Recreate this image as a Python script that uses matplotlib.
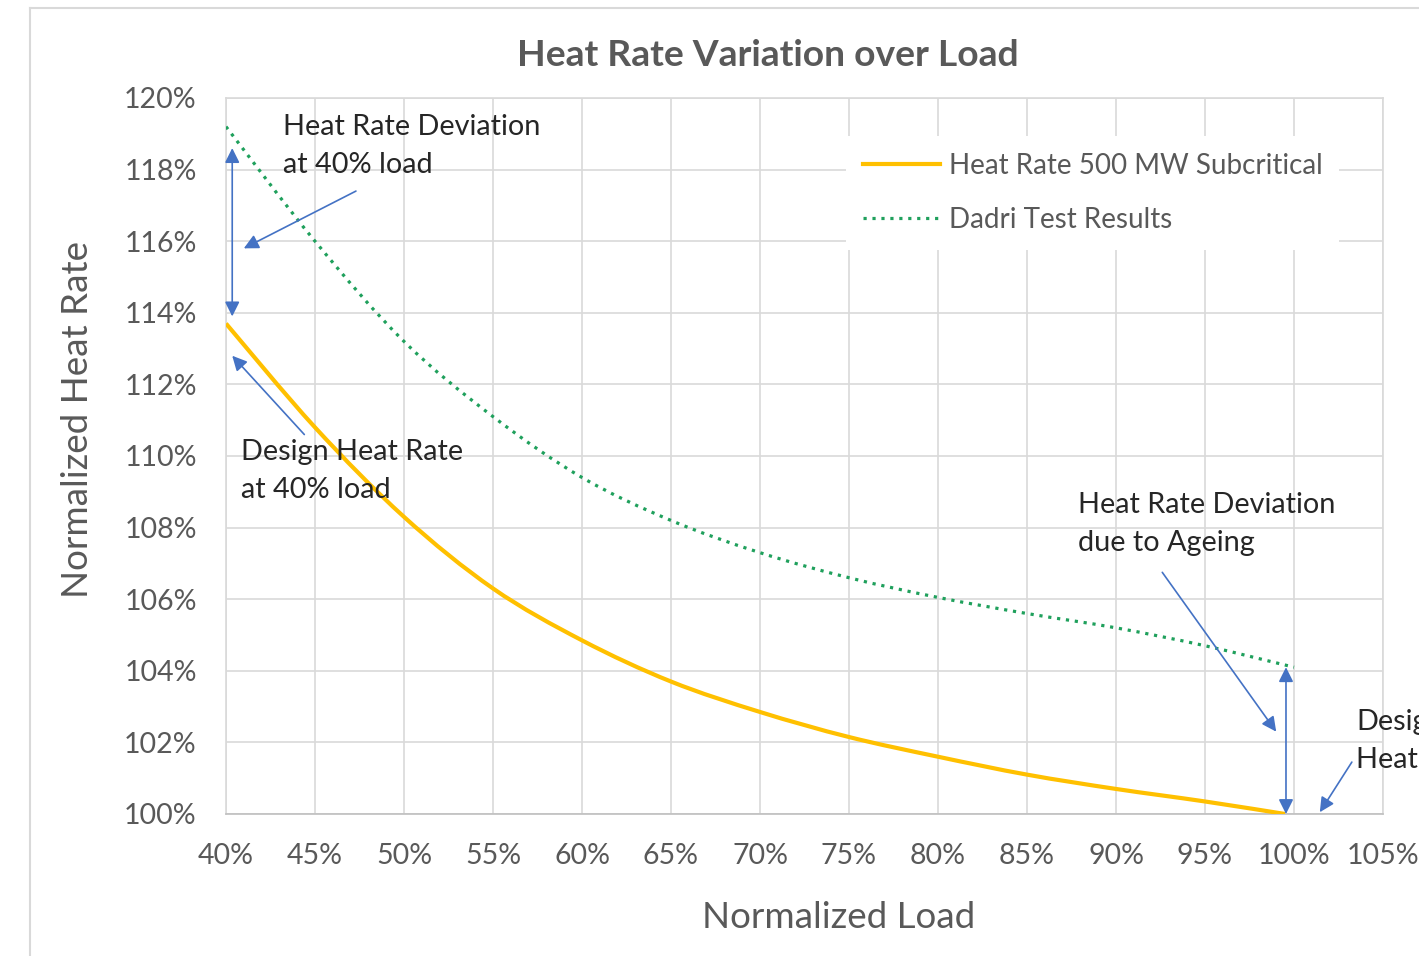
import matplotlib
matplotlib.use("Agg")
import matplotlib.pyplot as plt
from matplotlib.lines import Line2D
from matplotlib.path import Path
from matplotlib.patches import PathPatch
from matplotlib.ticker import FuncFormatter, MultipleLocator

plt.rcParams['font.family'] = ['Lato', 'DejaVu Sans']

# values
design_load = [40, 45, 50, 55, 60, 65, 70, 75, 80, 85, 90, 95, 99.5]
design_hr = [113.7, 110.8, 108.3, 106.3, 104.85, 103.7, 102.85, 102.15, 101.6, 101.1, 100.7, 100.35, 100.0]

dadri_load = [40, 45, 50, 55, 60, 65, 70, 75, 80, 85, 90, 95, 100]
dadri_hr = [119.2, 116.0, 113.2, 111.1, 109.4, 108.2, 107.3, 106.6, 106.05, 105.6, 105.2, 104.7, 104.1]

grey = '#595959'
grid = '#d9d9d9'
blue = '#4472c4'
yellow = '#ffc000'
green = '#1fa05c'
dots = (0, (1, 1.8))


def smooth_path(xs, ys):
    # excel-like smoothed line: bezier segments through the data points
    pts = list(zip(xs, ys))
    ext = [pts[0]] + pts + [pts[-1]]
    verts = [pts[0]]
    codes = [Path.MOVETO]
    for i in range(1, len(ext) - 2):
        p0, p1, p2, p3 = ext[i - 1], ext[i], ext[i + 1], ext[i + 2]
        c1 = (p1[0] + (p2[0] - p0[0]) / 6, p1[1] + (p2[1] - p0[1]) / 6)
        c2 = (p2[0] - (p3[0] - p1[0]) / 6, p2[1] - (p3[1] - p1[1]) / 6)
        verts += [c1, c2, p2]
        codes += [Path.CURVE4] * 3
    return Path(verts, codes)


W, H = 1419, 956
fig = plt.figure(figsize=(W / 100, H / 100), dpi=100)
ax = fig.add_axes([226 / W, 1 - 814 / H, (1383 - 226) / W, (814 - 98) / H])

ax.add_patch(PathPatch(smooth_path(design_load, design_hr), fill=False,
                       edgecolor=yellow, lw=3, zorder=3))
ax.add_patch(PathPatch(smooth_path(dadri_load, dadri_hr), fill=False,
                       edgecolor=green, lw=2.3, linestyle=dots, zorder=3))

ax.set_xlim(40, 105)
ax.set_ylim(100, 120)
ax.xaxis.set_major_locator(MultipleLocator(5))
ax.yaxis.set_major_locator(MultipleLocator(2))
ax.xaxis.set_major_formatter(FuncFormatter(lambda v, p: '%d%%' % round(v)))
ax.yaxis.set_major_formatter(FuncFormatter(lambda v, p: '%d%%' % round(v)))
ax.tick_params(length=0, labelsize=20.5, labelcolor=grey)
ax.tick_params(axis='x', pad=21)
ax.tick_params(axis='y', pad=21)
ax.grid(True, color=grid, lw=1.2, zorder=0)
ax.set_axisbelow(True)
for s in ax.spines.values():
    s.set_color(grid)
    s.set_linewidth(1.2)
ax.spines['bottom'].set_color('#bfbfbf')

ax.set_xlabel('Normalized Load', fontsize=26.5, color=grey)
ax.set_ylabel('Normalized Heat Rate', fontsize=26.5, color=grey)
ax.xaxis.set_label_coords((839 - 226) / (1383 - 226), -(918 - 814) / (814 - 98))
ax.yaxis.set_label_coords(-(226 - 78) / (1383 - 226), (814 - 420) / (814 - 98))
ax.xaxis.label.set_va('center')
ax.yaxis.label.set_va('center')
fig.text(768 / W, 1 - 56 / H, 'Heat Rate Variation over Load', fontsize=26.8,
         fontweight='bold', color=grey, ha='center', va='center')

handles = [Line2D([], [], color=yellow, lw=3),
           Line2D([], [], color=green, lw=2.3, linestyle=dots)]
labels = ['Heat Rate 500 MW Subcritical', 'Dadri Test Results']
leg = ax.legend(handles, labels, loc='upper left',
                bbox_to_anchor=((846 - 226) / (1383 - 226), 1 - (136 - 98) / (814 - 98)),
                fontsize=20, frameon=True, fancybox=False, edgecolor='none', facecolor='white',
                framealpha=1, handlelength=2.8, handletextpad=0.3, labelspacing=1.02,
                borderpad=0.6, borderaxespad=0)
for t in leg.get_texts():
    t.set_color(grey)

# annotations
txt = '#262626'
ax.text(43.2, 118.67, 'Heat Rate Deviation\nat 40% load', fontsize=20.8, color=txt,
        va='center', ha='left', linespacing=1.58)
ax.text(40.84, 109.58, 'Design Heat Rate\nat 40% load', fontsize=20.8, color=txt,
        va='center', ha='left', linespacing=1.58)
ax.text(87.87, 108.09, 'Heat Rate Deviation\ndue to Ageing', fontsize=20.8, color=txt,
        va='center', ha='left', linespacing=1.58)
ax.text(103.48, 102.03, 'Design\nHeat Rate', fontsize=20.8, color=txt,
        va='center', ha='left', linespacing=1.58, clip_on=False)


def arrow(x0, y0, x1, y1, style='-|>'):
    ax.annotate('', xy=(x1, y1), xytext=(x0, y0),
                arrowprops=dict(arrowstyle=style, color=blue, lw=1.2,
                                mutation_scale=22, shrinkA=0, shrinkB=0),
                zorder=4, annotation_clip=False)


arrow(40.35, 118.6, 40.35, 113.9, '<|-|>')
arrow(47.3, 117.4, 41.0, 115.8)
arrow(44.4, 110.6, 40.35, 112.8)
arrow(99.55, 104.1, 99.55, 100.0, '<|-|>')
arrow(92.6, 106.75, 99.0, 102.3)
arrow(103.25, 101.45, 101.45, 100.05)

# outer chart border (cropped on the right and bottom)
fig.add_artist(Line2D([30 / W, 30 / W], [0, 1 - 8 / H], transform=fig.transFigure, color=grid, lw=1.5))
fig.add_artist(Line2D([30 / W, 1], [1 - 8 / H, 1 - 8 / H], transform=fig.transFigure, color=grid, lw=1.5))

fig.savefig('out.png', dpi=100)
